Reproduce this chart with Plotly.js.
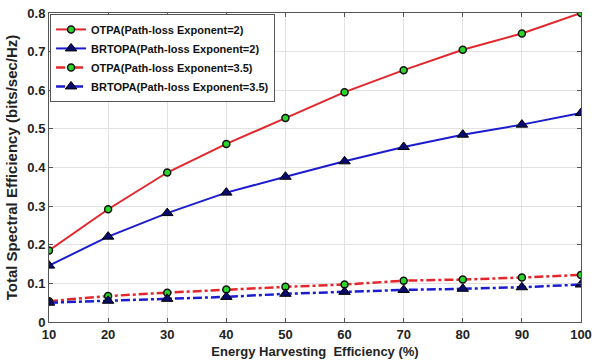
<!DOCTYPE html>
<html><head><meta charset="utf-8">
<script src="https://cdn.plot.ly/plotly-3.0.1.min.js"></script>
<style>html,body{margin:0;padding:0;background:#fff}#c{width:597px;height:364px}</style>
</head><body><div id="c"></div>
<script>
const efficiency = [10,20,30,40,50,60,70,80,90,100];
const otpa2   = [0.185,0.292,0.387,0.461,0.528,0.595,0.652,0.705,0.747,0.800];
const brtopa2 = [0.146,0.221,0.282,0.335,0.376,0.416,0.453,0.485,0.511,0.541];
const otpa35  = [0.054,0.067,0.076,0.084,0.091,0.097,0.107,0.110,0.115,0.122];
const brtopa35= [0.050,0.055,0.060,0.065,0.073,0.078,0.083,0.086,0.090,0.097];
const names = ['OTPA(Path-loss Exponent=2)','BRTOPA(Path-loss Exponent=2)','OTPA(Path-loss Exponent=3.5)','BRTOPA(Path-loss Exponent=3.5)'];
const xTicks = [10,20,30,40,50,60,70,80,90,100];
const yTicks = [0,0.1,0.2,0.3,0.4,0.5,0.6,0.7,0.8];
const yTickText = ['0','0.1','0.2','0.3','0.4','0.5','0.6','0.7','0.8'];

const red = '#e3262b', blue = '#1c1ccf';
const circ = {symbol:'circle', size:7, color:'#2bd62b', line:{color:'#111', width:1.5}};
const tri = {symbol:'triangle-up', size:10, color:'#0b0b6e', line:{color:'#000', width:1}};
const data = [
  {x:efficiency, y:otpa2, name:names[0], mode:'lines+markers', line:{color:red,width:2}, marker:circ},
  {x:efficiency, y:brtopa2, name:names[1], mode:'lines+markers', line:{color:blue,width:2}, marker:tri},
  {x:efficiency, y:otpa35, name:names[2], mode:'lines+markers', line:{color:red,width:2.5,dash:'dashdot'}, marker:circ},
  {x:efficiency, y:brtopa35, name:names[3], mode:'lines+markers', line:{color:blue,width:2.5,dash:'dashdot'}, marker:tri}
];
const fnt = 'Liberation Sans, Arial, sans-serif';
const layout = {
  width:597, height:364,
  margin:{l:49, r:16, t:13, b:42},
  paper_bgcolor:'#fff', plot_bgcolor:'#fff',
  font:{family:fnt, size:12, color:'#222'},
  showlegend:true,
  legend:{x:0.002, y:0.997, xanchor:'left', yanchor:'top', bgcolor:'#fff', bordercolor:'#555', borderwidth:1,
    font:{family:fnt, size:11, color:'#111', weight:'bold'}, tracegroupgap:0, itemwidth:30},
  xaxis:{range:[10,100], tickvals:xTicks, ticktext:xTicks.map(String), showgrid:true, gridcolor:'#e2e2e2',
    zeroline:false, showline:true, linecolor:'#555', linewidth:1, mirror:'ticks', ticks:'inside', ticklen:4, tickcolor:'#555',
    tickfont:{family:fnt, size:13, color:'#222', weight:'bold'},
    title:{text:'Energy Harvesting  Efficiency (%)', font:{family:fnt, size:13, color:'#222', weight:'bold'}, standoff:6}},
  yaxis:{range:[0,0.8], tickvals:yTicks, ticktext:yTickText, showgrid:true, gridcolor:'#e2e2e2',
    zeroline:false, showline:true, linecolor:'#555', linewidth:1, mirror:'ticks', ticks:'inside', ticklen:4, tickcolor:'#555',
    tickfont:{family:fnt, size:13, color:'#222', weight:'bold'},
    title:{text:'Total Spectral Efficiency (bits/sec/Hz)', font:{family:fnt, size:15, color:'#222', weight:'bold'}, standoff:6}}
};
Plotly.newPlot('c', data, layout, {displayModeBar:false, staticPlot:true});
</script></body></html>
